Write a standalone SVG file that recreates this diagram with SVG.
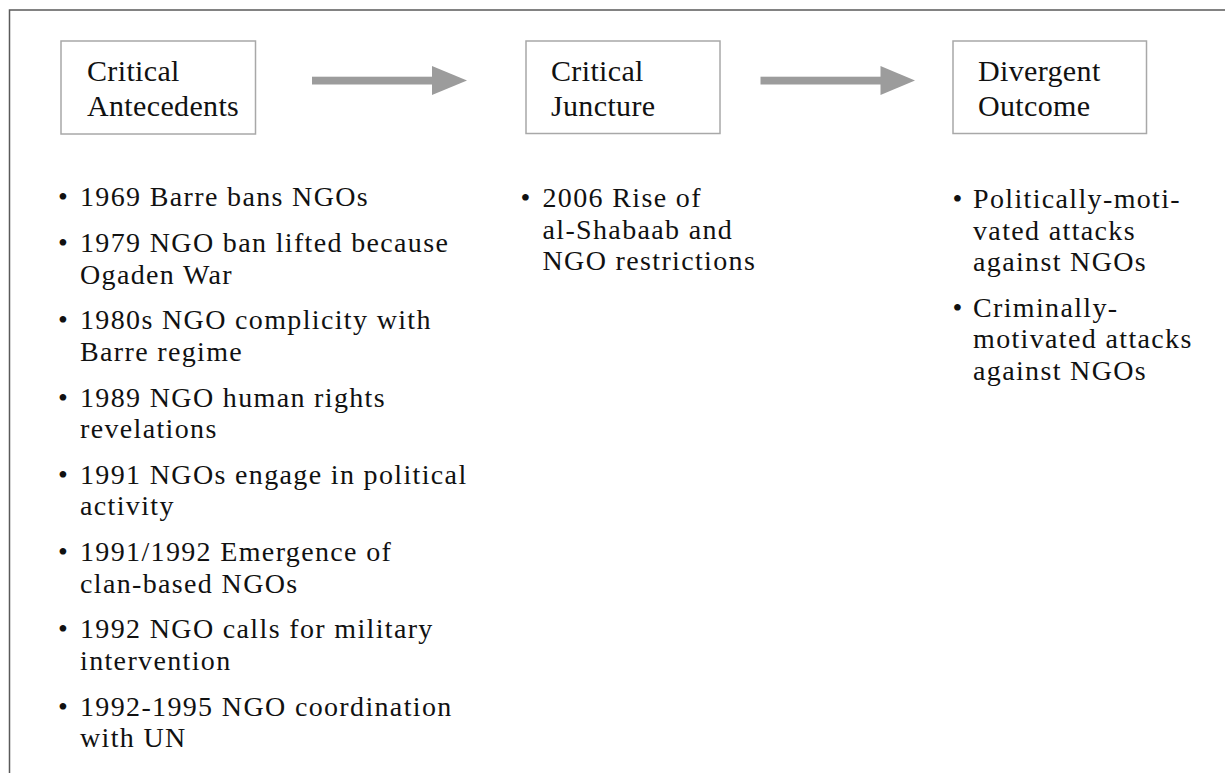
<svg xmlns="http://www.w3.org/2000/svg" width="1225" height="773" viewBox="0 0 1225 773">
<style>
.frame{stroke:#5a5a5a;stroke-width:1.5;fill:none}
.box{fill:#fff;stroke:#a8a8a8;stroke-width:1.5}
.hd{font-family:"Liberation Serif","Times New Roman",serif;font-size:30px;letter-spacing:0.35px;fill:#111}
.li{font-family:"Liberation Serif","Times New Roman",serif;font-size:28px;letter-spacing:1.35px;fill:#111}
.arr{fill:#9c9c9c}
</style>
<rect width="1225" height="773" fill="#fff"/>
<path class="frame" d="M9.5,773 V10 H1225"/>
<g id="connectors">
<g id="arrow1"><rect class="arr" x="312" y="76.7" width="122" height="7.8"/><polygon class="arr" points="432,66 467,80.6 432,95"/></g>
<g id="arrow2"><rect class="arr" x="760.5" y="76.7" width="122" height="7.8"/><polygon class="arr" points="880.5,66 915,80.6 880.5,95"/></g>
</g>
<g id="node-antecedents">
<rect class="box" x="61" y="41" width="194.5" height="93"/>
<text class="hd" x="87" y="81">Critical</text>
<text class="hd" x="87" y="115.5">Antecedents</text>
</g>
<g id="node-juncture">
<rect class="box" x="526" y="41" width="194" height="92.5"/>
<text class="hd" x="551" y="81">Critical</text>
<text class="hd" x="551" y="115.5">Juncture</text>
</g>
<g id="node-outcome">
<rect class="box" x="953" y="41" width="193.5" height="92.5"/>
<text class="hd" x="978" y="81">Divergent</text>
<text class="hd" x="978" y="115.5">Outcome</text>
</g>
<g id="list-antecedents" class="li">
<text x="58" y="206">•</text><text x="80" y="206">1969 Barre bans NGOs</text>
<text x="58" y="252">•</text><text x="80" y="252">1979 NGO ban lifted because</text>
<text x="80" y="283.5">Ogaden War</text>
<text x="58" y="329.3">•</text><text x="80" y="329.3">1980s NGO complicity with</text>
<text x="80" y="361">Barre regime</text>
<text x="58" y="406.7">•</text><text x="80" y="406.7">1989 NGO human rights</text>
<text x="80" y="438.3">revelations</text>
<text x="58" y="483.5">•</text><text x="80" y="483.5">1991 NGOs engage in political</text>
<text x="80" y="514.5">activity</text>
<text x="58" y="560.7">•</text><text x="80" y="560.7">1991/1992 Emergence of</text>
<text x="80" y="592.5">clan-based NGOs</text>
<text x="58" y="638.3">•</text><text x="80" y="638.3">1992 NGO calls for military</text>
<text x="80" y="670">intervention</text>
<text x="58" y="716">•</text><text x="80" y="716">1992-1995 NGO coordination</text>
<text x="80" y="747">with UN</text>
</g>
<g id="list-juncture" class="li">
<text x="520.5" y="207">•</text><text x="542.5" y="207">2006 Rise of</text>
<text x="542.5" y="239">al-Shabaab and</text>
<text x="542.5" y="270.3">NGO restrictions</text>
</g>
<g id="list-outcome" class="li">
<text x="952.5" y="208.3">•</text><text x="973" y="208.3">Politically-moti-</text>
<text x="973" y="240">vated attacks</text>
<text x="973" y="271">against NGOs</text>
<text x="952.5" y="316.7">•</text><text x="973" y="316.7">Criminally-</text>
<text x="973" y="348.3">motivated attacks</text>
<text x="973" y="380">against NGOs</text>
</g>
</svg>
